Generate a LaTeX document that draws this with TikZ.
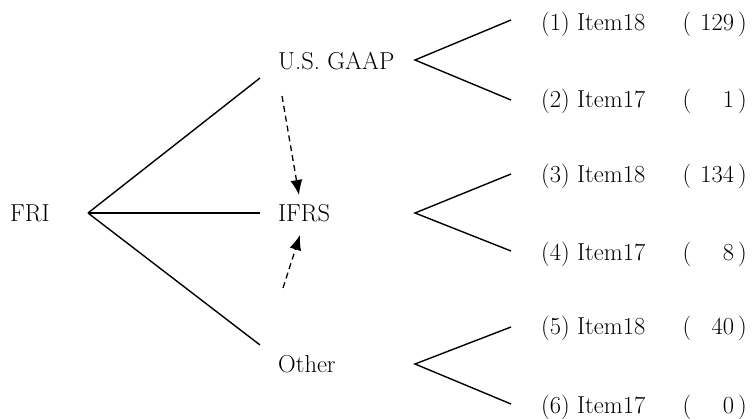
\documentclass[tikz,border=0pt]{standalone}
\usetikzlibrary{arrows.meta,positioning}
\tikzset{>=latex}
\tikzset{lbl/.style={inner sep=0pt, anchor=base west, font=\fontsize{24.5}{29}\selectfont}}
\tikzset{cnt/.style={inner sep=0pt, anchor=base east, font=\fontsize{24.5}{29}\selectfont}}
\tikzset{branch/.style={line width=1.4pt}}
\tikzset{move/.style={-{Latex[length=15pt,width=12pt]}, line width=1.3pt, dash pattern=on 6pt off 4pt}}
\newcommand{\cntbox}[1]{(\makebox[1.75em][r]{#1}\,)}

\begin{document}
\begin{tikzpicture}[x=1pt,y=-1pt]
  \useasboundingbox (0,0) rectangle (752,419);
  % left side
  \node[lbl] (fri) at (10,222) {FRI};
  \node[lbl] (gaap) at (278,70) {U.S. GAAP};
  \node[lbl] (ifrs) at (278,222) {IFRS};
  \node[lbl] (other) at (278,373) {Other};
  \coordinate (root) at (88,213);
  \coordinate (gaapin) at (260,78);
  \coordinate (ifrsin) at (260,213);
  \coordinate (otherin) at (260,345);
  \draw[branch] (root) -- (gaapin);
  \draw[branch] (root) -- (ifrsin);
  \draw[branch] (root) -- (otherin);
  % moves to IFRS
  \coordinate (gaapout) at (282,96);
  \coordinate (otherout) at (283,288);
  \coordinate (ifrstop) at (299,195);
  \coordinate (ifrsbot) at (300,235);
  \draw[move] (gaapout) -- (ifrstop);
  \draw[move] (otherout) -- (ifrsbot);
  % forks
  \coordinate (gaapfork) at (415,60);
  \coordinate (ifrsfork) at (415,213);
  \coordinate (otherfork) at (415,364);
  \coordinate (t1) at (511,20);
  \coordinate (t2) at (511,100);
  \coordinate (t3) at (511,174);
  \coordinate (t4) at (511,251);
  \coordinate (t5) at (511,327);
  \coordinate (t6) at (511,404);
  \draw[branch] (t1) -- (gaapfork) -- (t2);
  \draw[branch] (t3) -- (ifrsfork) -- (t4);
  \draw[branch] (t5) -- (otherfork) -- (t6);
  % items
  \node[lbl] (item1) at (541,31) {(1) Item18};
  \node[lbl] (item2) at (541,108) {(2) Item17};
  \node[lbl] (item3) at (541,183) {(3) Item18};
  \node[lbl] (item4) at (541,261) {(4) Item17};
  \node[lbl] (item5) at (541,335) {(5) Item18};
  \node[lbl] (item6) at (541,413) {(6) Item17};
  \node[cnt] (n1) at (747,31) {\cntbox{129}};
  \node[cnt] (n2) at (747,108) {\cntbox{1}};
  \node[cnt] (n3) at (747,183) {\cntbox{134}};
  \node[cnt] (n4) at (747,261) {\cntbox{8}};
  \node[cnt] (n5) at (747,335) {\cntbox{40}};
  \node[cnt] (n6) at (747,413) {\cntbox{0}};
\end{tikzpicture}
\end{document}
